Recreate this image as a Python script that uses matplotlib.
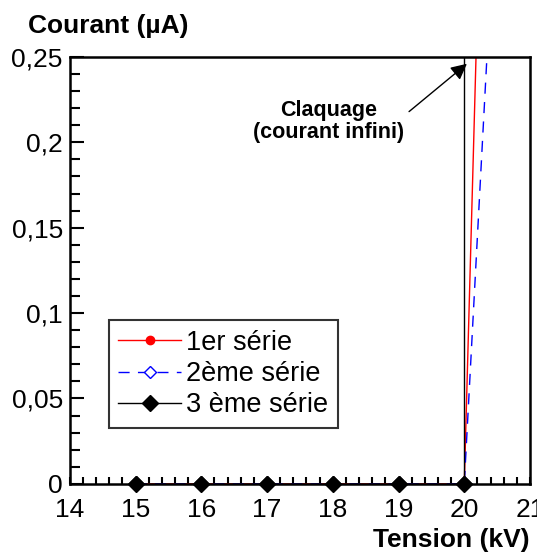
import numpy as np
import matplotlib
matplotlib.use('Agg')
import matplotlib.pyplot as plt
from matplotlib.ticker import MultipleLocator, FuncFormatter

plt.rcParams['font.family'] = ['Liberation Sans', 'DejaVu Sans']

# data
tension_1 = [15, 16, 17, 18, 19, 20, 20.2]
courant_1 = [0, 0, 0, 0, 0, 0, 0.28]
tension_2 = [15, 16, 17, 18, 19, 20, 20.4]
courant_2 = [0, 0, 0, 0, 0, 0, 0.29]
tension_3 = [15, 16, 17, 18, 19, 20, 20]
courant_3 = [0, 0, 0, 0, 0, 0, 0.3]
labels = ['1er série', '2ème série', '3 ème série']

fig = plt.figure(figsize=(5.37, 5.53), dpi=100)
ax = fig.add_axes([0.130, 0.125, 0.857, 0.772])

ax.plot(tension_1, courant_1, color='red', lw=1, marker='o', ms=6,
        markevery=list(range(6)), label=labels[0])
ax.plot(tension_2, courant_2, color='blue', lw=1, ls=(0, (8, 6)), marker='D', ms=6,
        mfc='white', mec='blue', markevery=list(range(6)), label=labels[1])
ax.plot(tension_3, courant_3, color='black', lw=1, marker='D', ms=8,
        markevery=list(range(6)), label=labels[2])

# diamonds sit on the axis and are not clipped
ax.plot(tension_3[:6], courant_3[:6], ls='none', marker='D', ms=8,
        color='black', clip_on=False, zorder=5)

ax.set_xlim(14, 21)
ax.set_ylim(0, 0.25)
ax.xaxis.set_major_locator(MultipleLocator(1))
ax.xaxis.set_minor_locator(MultipleLocator(0.2))
ax.yaxis.set_major_locator(MultipleLocator(0.05))
ax.yaxis.set_minor_locator(MultipleLocator(0.01))
ax.yaxis.set_major_formatter(FuncFormatter(lambda v, p: ('%g' % round(v, 3)).replace('.', ',')))

ax.tick_params(axis='both', which='both', direction='in', labelsize=19,
               top=False, right=False, width=1.5)
ax.tick_params(axis='y', which='major', length=10, pad=5)
ax.tick_params(axis='y', which='minor', length=7)
ax.tick_params(axis='x', which='major', length=5, pad=10)
ax.tick_params(axis='x', which='minor', length=5)
for s in ax.spines.values():
    s.set_linewidth(1.8)

fig.text(0.052, 0.953, 'Courant (µA)', fontsize=19, fontweight='bold', ha='left', va='center')
fig.text(0.987, 0.024, 'Tension (kV)', fontsize=19, fontweight='bold', ha='right', va='center')

ax.text(17.93, 0.212, 'Claquage\n(courant infini)', fontsize=15.5, fontweight='bold',
        ha='center', va='center', linespacing=1.05)
ax.annotate('', xy=(20.04, 0.246), xytext=(19.16, 0.218),
            arrowprops=dict(arrowstyle='-|>', color='black', lw=1, mutation_scale=24,
                            shrinkA=0, shrinkB=0))

leg = ax.legend(loc='lower left', bbox_to_anchor=(0.085, 0.131), fontsize=19.5,
                frameon=True, fancybox=False, edgecolor='black', handlelength=2.3,
                handletextpad=0.2, borderpad=0.35, labelspacing=0.2, borderaxespad=0)
leg.get_frame().set_linewidth(1.5)

fig.savefig('out.png', dpi=100)
